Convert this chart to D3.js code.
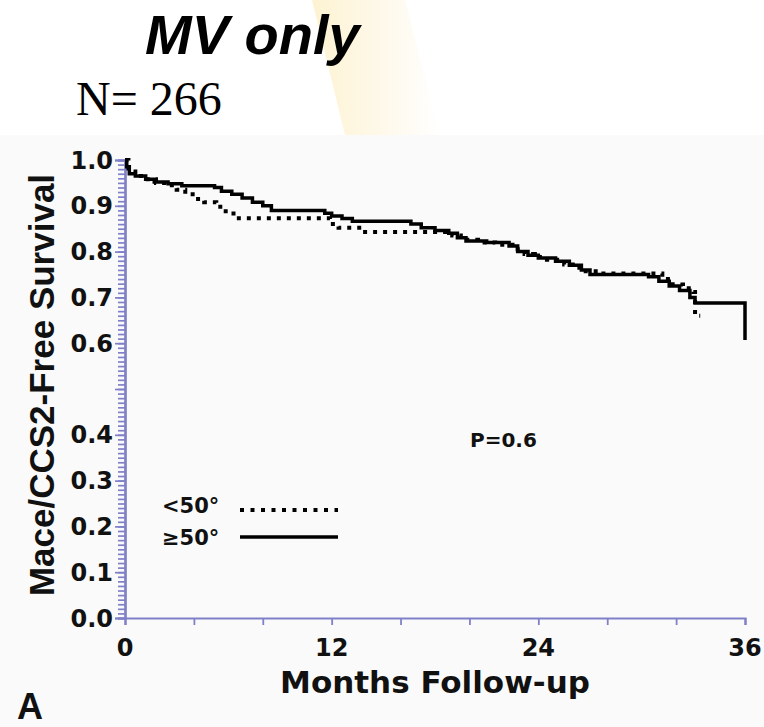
<!DOCTYPE html>
<html>
<head>
<meta charset="utf-8">
<script src="https://cdn.jsdelivr.net/npm/d3@7"></script>
<style>
  body { margin: 0; background: #fff; }
  svg { display: block; }
</style>
</head>
<body>
<figure id="km" style="margin:0"></figure>
<script>
// survival curves, [month, survival]
var under50 = [
  [0, 1.0], [0.2, 0.975], [0.6, 0.965], [1.2, 0.958], [1.8, 0.950], [2.4, 0.945],
  [3.0, 0.935], [3.5, 0.925], [4.1, 0.915], [4.6, 0.908], [5.3, 0.898], [5.7, 0.888],
  [6.3, 0.873], [11.9, 0.860], [12.4, 0.852], [13.6, 0.843], [19.0, 0.835],
  [19.5, 0.826], [20.5, 0.820], [21.5, 0.815], [22.5, 0.805], [23.2, 0.795],
  [23.8, 0.788], [24.5, 0.782], [25.5, 0.772], [26.0, 0.765], [26.6, 0.757],
  [27.5, 0.752], [31.2, 0.740], [31.8, 0.728], [32.4, 0.720], [33.0, 0.712],
  [33.1, 0.660], [33.4, 0.660]
];
var over50 = [
  [0, 1.0], [0.1, 0.985], [0.25, 0.970], [0.6, 0.965], [1.2, 0.958], [1.7, 0.952],
  [2.5, 0.948], [3.3, 0.944], [5.2, 0.940], [5.6, 0.932], [6.2, 0.925], [6.8, 0.917],
  [7.4, 0.908], [8.0, 0.900], [8.5, 0.890], [11.6, 0.884], [12.0, 0.878],
  [12.6, 0.872], [13.2, 0.866], [16.6, 0.860], [17.2, 0.852], [18.0, 0.846],
  [18.8, 0.840], [19.3, 0.830], [19.8, 0.823], [21.0, 0.820], [22.3, 0.812],
  [22.8, 0.800], [23.4, 0.792], [24.0, 0.786], [25.0, 0.779], [25.8, 0.770],
  [26.5, 0.760], [27.0, 0.750], [30.4, 0.745], [31.0, 0.735], [31.6, 0.725],
  [32.2, 0.715], [32.8, 0.700], [33.1, 0.688], [36.0, 0.688], [36.0, 0.607]
];
var xTickLabels = [0, 12, 24, 36];
var xMinorTicks = [4, 8, 16, 20, 28, 32];
var yMajorTicks = [0, 0.1, 0.2, 0.3, 0.4, 0.5, 0.6, 0.7, 0.8, 0.9, 1.0];
var yTickLabels = [1.0, 0.9, 0.8, 0.7, 0.6, 0.4, 0.3, 0.2, 0.1, 0.0];
var legendLabels = ["<50°", "≥50°"];

var width = 764, height = 727;
var axisColor = "#8080c8";
var boldFont = "DejaVu Sans, sans-serif";

var svg = d3.select("figure#km")
  .append("svg")
  .attr("width", width)
  .attr("height", height);

// page background and faint watermark at top
svg.append("rect").attr("width", width).attr("height", height).attr("fill", "#fff");
var defs = svg.append("defs");
var grad = defs.append("linearGradient").attr("id", "wm");
grad.append("stop").attr("offset", "0%").attr("stop-color", "#fdf3d2");
grad.append("stop").attr("offset", "50%").attr("stop-color", "#fef8e8");
grad.append("stop").attr("offset", "100%").attr("stop-color", "#ffffff");
svg.append("path")
  .attr("d", "M312,0L405,0L440,135L345,135Z")
  .attr("fill", "url(#wm)");
svg.append("rect")
  .attr("y", 135).attr("width", width).attr("height", height - 135)
  .attr("fill", "#fafafb");

// scales
var x = d3.scaleLinear().domain([0, 36]).range([125, 745]);
var y = d3.scaleLinear().domain([0, 1]).range([618, 160]);

// y axis: minor ticks every 0.01, major every 0.1
var yAxisG = svg.append("g").attr("transform", "translate(" + x(0) + ",0)");
yAxisG.call(d3.axisLeft(y).tickValues(d3.range(0, 1.001, 0.01)).tickSize(7).tickFormat(""));
yAxisG.call(g => g.append("g").call(d3.axisLeft(y).tickValues(yMajorTicks).tickSize(10).tickFormat("")));
yAxisG.selectAll("path, line").attr("stroke", axisColor).attr("stroke-width", 1.7);
yAxisG.selectAll(".domain").attr("stroke-width", 2.2);

yAxisG.append("g").selectAll("text")
  .data(yTickLabels)
  .join("text")
  .attr("x", -12)
  .attr("y", d => y(d))
  .attr("dy", "0.36em")
  .attr("text-anchor", "end")
  .attr("font-family", boldFont)
  .attr("font-weight", "bold")
  .attr("font-size", 24)
  .attr("fill", "#111")
  .text(d => d.toFixed(1));

// x axis
var xAxisG = svg.append("g").attr("transform", "translate(0," + y(0) + ")");
xAxisG.call(d3.axisBottom(x).tickValues(xTickLabels.concat(xMinorTicks)).tickSize(7).tickFormat(""));
xAxisG.selectAll("path, line").attr("stroke", axisColor).attr("stroke-width", 1.8);
xAxisG.selectAll(".domain").attr("stroke-width", 2.2);
xAxisG.append("g").selectAll("text")
  .data(xTickLabels)
  .join("text")
  .attr("x", d => x(d))
  .attr("y", 38)
  .attr("text-anchor", "middle")
  .attr("font-family", boldFont)
  .attr("font-weight", "bold")
  .attr("font-size", 24)
  .attr("fill", "#111")
  .text(d => d);

// curves
var line = d3.line()
  .x(d => x(d[0]))
  .y(d => y(d[1]))
  .curve(d3.curveStepAfter);

svg.append("path")
  .datum(over50)
  .attr("d", line)
  .attr("fill", "none")
  .attr("stroke", "#000")
  .attr("stroke-width", 3.5);

svg.append("path")
  .datum(under50)
  .attr("d", line)
  .attr("fill", "none")
  .attr("stroke", "#000")
  .attr("stroke-width", 4)
  .attr("stroke-dasharray", "4,6");

// legend
var legend = svg.append("g");
legend.selectAll("text")
  .data(legendLabels)
  .join("text")
  .attr("x", 162)
  .attr("y", (d, i) => 513 + i * 32)
  .attr("font-family", boldFont)
  .attr("font-weight", "bold")
  .attr("font-size", 21)
  .attr("fill", "#111")
  .text(d => d);
legend.selectAll("line")
  .data(legendLabels)
  .join("line")
  .attr("x1", 240).attr("x2", 338)
  .attr("y1", (d, i) => 510 + i * 27)
  .attr("y2", (d, i) => 510 + i * 27)
  .attr("stroke", "#000")
  .attr("stroke-width", (d, i) => i ? 3.5 : 4)
  .attr("stroke-dasharray", (d, i) => i ? null : "4,6.5");

// p value
svg.append("text")
  .attr("x", 470).attr("y", 447)
  .attr("font-family", boldFont).attr("font-weight", "bold")
  .attr("font-size", 20).attr("fill", "#111")
  .text("P=0.6");

// axis titles
svg.append("text")
  .attr("x", 435).attr("y", 693)
  .attr("text-anchor", "middle")
  .attr("font-family", boldFont).attr("font-weight", "bold")
  .attr("font-size", 31).attr("fill", "#111")
  .text("Months Follow-up");

svg.append("text")
  .attr("transform", "translate(54,385) rotate(-90)")
  .attr("text-anchor", "middle")
  .attr("font-family", "Liberation Sans, Arial, sans-serif").attr("font-weight", "bold")
  .attr("font-size", 35).attr("fill", "#111")
  .text("Mace/CCS2-Free Survival");

// titles
svg.append("text")
  .attr("x", 145).attr("y", 54)
  .attr("font-family", "Liberation Sans, Arial, sans-serif")
  .attr("font-weight", "bold").attr("font-style", "italic")
  .attr("font-size", 56).attr("fill", "#000")
  .text("MV only");

svg.append("text")
  .attr("x", 76).attr("y", 115)
  .attr("font-family", "Liberation Serif, Times New Roman, serif")
  .attr("font-size", 48).attr("fill", "#000")
  .text("N= 266");

svg.append("text")
  .attr("x", 17).attr("y", 719)
  .attr("font-family", "Liberation Sans, Arial, sans-serif").attr("font-weight", "bold")
  .attr("font-size", 36).attr("fill", "#111")
  .text("A");
</script>
</body>
</html>
